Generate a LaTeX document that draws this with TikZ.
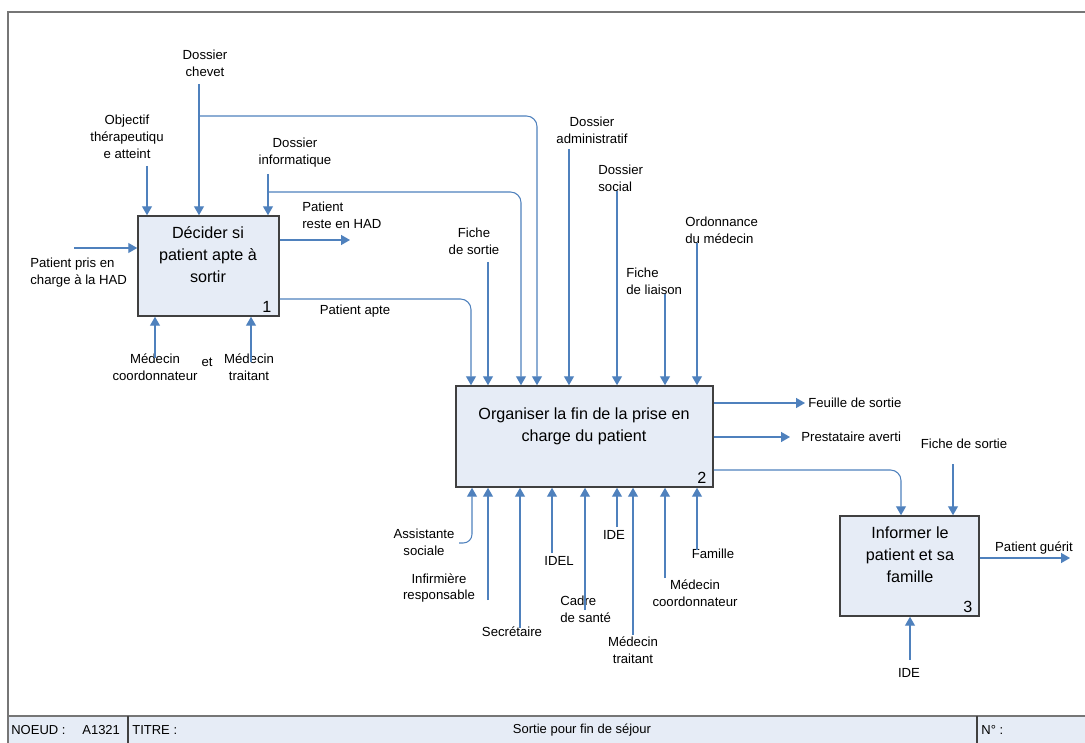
\documentclass[tikz,border=0pt]{standalone}
\usepackage{fontspec}
\setmainfont{Liberation Sans}
\usetikzlibrary{arrows.meta,calc,positioning}
\definecolor{idefblue}{HTML}{4F81BD}
\definecolor{idefgrey}{HTML}{404040}
\definecolor{idefframe}{HTML}{767676}
\definecolor{idefpale}{HTML}{E6ECF6}
\tikzset{
  flow/.style={draw=idefblue, line width=0.6pt, -{Triangle[length=5pt,width=5.6pt]}},
  lbl/.style={font=\fontsize{7.5}{9.6}\selectfont, inner sep=0pt, align=center},
  lbll/.style={lbl, align=left, anchor=west},
  proc/.style={draw=idefgrey, line width=0.9pt, fill=idefpale, inner sep=0pt},
  proctext/.style={font=\fontsize{9.2}{12.5}\selectfont, align=center, inner sep=0pt},
  procnum/.style={font=\fontsize{9.2}{11}\selectfont, inner sep=0pt, anchor=south east},
  foot/.style={font=\fontsize{7.4}{9}\selectfont, inner sep=0pt, anchor=west},
}

\begin{document}
\begin{tikzpicture}[x=0.02cm, y=-0.02cm]
		%%%%% FRAME %%%%%
		\useasboundingbox (0,0) rectangle (1085,743);
		\fill[idefpale] (8,716) rectangle (1085,743);
		\draw[idefframe, line width=0.9pt] (8,743) -- (8,12) -- (1085,12);
		\draw[idefframe, line width=0.9pt] (8,716) -- (1085,716);
		\draw[idefgrey, line width=0.6pt] (128,716) -- (128,743);
		\draw[idefgrey, line width=0.6pt] (977,716) -- (977,743);
		\node[foot] (noeud) at (11,730) {NOEUD :};
		\node[foot] (noeudid) at (82,730) {A1321};
		\node[foot] (titre) at (132,730) {TITRE :};
		\node[foot, anchor=center] (titretxt) at (582,730) {Sortie pour fin de séjour};
		\node[foot] (numero) at (981,730) {N° :};

		%%%%% PROCESSES %%%%%
		\node[proc, minimum width=2.82cm, minimum height=2cm] (b1) at (208.5,266) {};
		\node[proc, minimum width=5.14cm, minimum height=2.02cm] (b2) at (584.5,436.5) {};
		\node[proc, minimum width=2.78cm, minimum height=2cm] (b3) at (909.5,566) {};

		\node[proctext] (t1) at (208,255) {Décider si\\patient apte à\\sortir};
		\node[proctext] (t2) at (584,426) {Organiser la fin de la prise en\\charge du patient};
		\node[proctext] (t3) at (910,555) {Informer le\\patient et sa\\famille};
		\node[procnum] (n1) at ($(b1.south east)+(-8,-4)$) {1};
		\node[procnum] (n2) at ($(b2.south east)+(-7,-4)$) {2};
		\node[procnum] (n3) at ($(b3.south east)+(-7,-4)$) {3};

		%%%%% DECIDER %%%%%
		\node[lbll] (lpris) at (30,273) {Patient pris en\\charge à la HAD};
		\coordinate (pin) at (74,248);
		\draw[flow] (pin) -- (pin -| b1.west);

		\node[lbl] (lobj) at (127,137) {Objectif\\thérapeutiqu\\e atteint};
		\coordinate (cobj) at (147,166);
		\draw[flow] (cobj) -- (cobj |- b1.north);

		\node[lbl] (lchev) at (205,63) {Dossier\\chevet};
		\coordinate (cchev) at (199,84);
		\draw[flow] (cchev) -- (cchev |- b1.north);

		\node[lbl] (linfo) at (295,153) {Dossier\\informatique};
		\coordinate (cinfo) at (268,174);
		\draw[flow] (cinfo) -- (cinfo |- b1.north);

		\node[lbll] (lreste) at (302,215) {Patient\\reste en HAD};
		\coordinate (oreste) at (350,240);
		\draw[flow] (oreste -| b1.east) -- (oreste);

		\node[lbl] (lapte) at (355,311) {Patient apte};

		\node[lbl] (lmcoord1) at (155,367) {Médecin\\coordonnateur};
		\coordinate (mcoord1) at (155,358);
		\draw[flow] (mcoord1) -- (mcoord1 |- b1.south);
		\node[lbl] (let) at (207,362) {et};
		\node[lbl] (lmtrait1) at (249,367) {Médecin\\traitant};
		\coordinate (mtrait1) at (251,362);
		\draw[flow] (mtrait1) -- (mtrait1 |- b1.south);

		%%%%% ORGANISER %%%%%
		\coordinate (apte) at (471,299);
		\draw[flow, rounded corners=6pt] (apte -| b1.east) -| (apte |- b2.north);
		\coordinate (chevk) at (537,116);
		\draw[flow, rounded corners=6pt] (cchev |- chevk) -| (chevk |- b2.north);
		\coordinate (infok) at (521,192);
		\draw[flow, rounded corners=6pt] (cinfo |- infok) -| (infok |- b2.north);

		\node[lbl] (lfiche) at (474,241) {Fiche\\de sortie};
		\coordinate (cfiche) at (488,262);
		\draw[flow] (cfiche) -- (cfiche |- b2.north);
		\node[lbl] (ladmin) at (592,130) {Dossier\\administratif};
		\coordinate (cadmin) at (569,149);
		\draw[flow] (cadmin) -- (cadmin |- b2.north);
		\node[lbll] (lsocial) at (598,178) {Dossier\\social};
		\coordinate (csocial) at (617,191);
		\draw[flow] (csocial) -- (csocial |- b2.north);
		\node[lbll] (lliaison) at (626,281) {Fiche\\de liaison};
		\coordinate (cliaison) at (665,294);
		\draw[flow] (cliaison) -- (cliaison |- b2.north);
		\node[lbll] (lordo) at (685,230) {Ordonnance\\du médecin};
		\coordinate (cordo) at (697,243);
		\draw[flow] (cordo) -- (cordo |- b2.north);

		\node[lbll] (lfeuil) at (808,403) {Feuille de sortie};
		\coordinate (ofeuil) at (805,403);
		\draw[flow] (ofeuil -| b2.east) -- (ofeuil);
		\node[lbll] (lpresta) at (801,437) {Prestataire averti};
		\coordinate (opresta) at (790,437);
		\draw[flow] (opresta -| b2.east) -- (opresta);

		\node[lbl] (lassist) at (424,542) {Assistante\\sociale};
		\coordinate (massist) at (459,543);
		\coordinate (massk) at (472,543);
		\draw[flow, rounded corners=5pt] (massist) -| (massk |- b2.south);
		\node[lbl] (linfirm) at (439,588) {Infirmière\\responsable};
		\coordinate (minfirm) at (488,600);
		\draw[flow] (minfirm) -- (minfirm |- b2.south);
		\node[lbl] (lsecr) at (512,632) {Secrétaire};
		\coordinate (msecr) at (520,628);
		\draw[flow] (msecr) -- (msecr |- b2.south);
		\node[lbl] (lidel) at (559,561) {IDEL};
		\coordinate (midel) at (552,553);
		\draw[flow] (midel) -- (midel |- b2.south);
		\node[lbll] (lcadre) at (560,609) {Cadre\\de santé};
		\coordinate (mcadre) at (585,610);
		\draw[flow] (mcadre) -- (mcadre |- b2.south);
		\node[lbl] (lide2) at (614,535) {IDE};
		\coordinate (mide2) at (617,527);
		\draw[flow] (mide2) -- (mide2 |- b2.south);
		\node[lbl] (lmtrait2) at (633,650) {Médecin\\traitant};
		\coordinate (mtrait2) at (633,635);
		\draw[flow] (mtrait2) -- (mtrait2 |- b2.south);
		\node[lbl] (lmcoord2) at (695,593) {Médecin\\coordonnateur};
		\coordinate (mcoord2) at (665,578);
		\draw[flow] (mcoord2) -- (mcoord2 |- b2.south);
		\node[lbl] (lfam) at (713,554) {Famille};
		\coordinate (mfam) at (697,550);
		\draw[flow] (mfam) -- (mfam |- b2.south);

		%%%%% INFORMER %%%%%
		\coordinate (infok3) at (901,470);
		\draw[flow, rounded corners=6pt] (infok3 -| b2.east) -| (infok3 |- b3.north);
		\node[lbl] (lfiche3) at (964,444) {Fiche de sortie};
		\coordinate (cfiche3) at (953,464);
		\draw[flow] (cfiche3) -- (cfiche3 |- b3.north);
		\node[lbl] (lguerit) at (1034,548) {Patient guérit};
		\coordinate (oguerit) at (1070,558);
		\draw[flow] (oguerit -| b3.east) -- (oguerit);
		\node[lbl] (lide3) at (909,673) {IDE};
		\coordinate (mide3) at (910,660);
		\draw[flow] (mide3) -- (mide3 |- b3.south);
		%%%%% END %%%%%
	\end{tikzpicture}
\end{document}
